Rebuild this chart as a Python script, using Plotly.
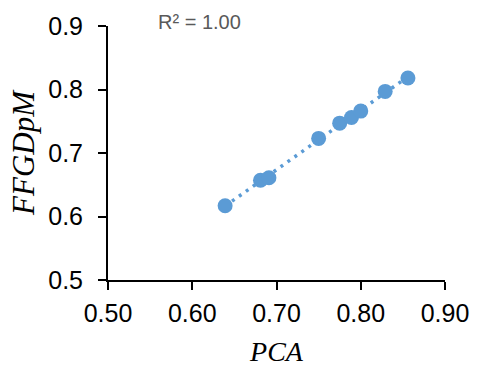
import numpy as np
import plotly.graph_objects as go

pca = [0.639, 0.681, 0.691, 0.750, 0.775, 0.789, 0.800, 0.829, 0.856]
ffgdpm = [0.617, 0.657, 0.661, 0.723, 0.747, 0.756, 0.766, 0.797, 0.818]
x_ticks = [0.5, 0.6, 0.7, 0.8, 0.9]
y_ticks = [0.5, 0.6, 0.7, 0.8, 0.9]
r2_label = "R² = 1.00"

color = "#5B9BD5"
slope, intercept = np.polyfit(pca, ffgdpm, 1)
tx = np.array([min(pca), max(pca)])
ty = slope * tx + intercept

fig = go.Figure()
fig.add_trace(go.Scatter(x=tx, y=ty, mode="lines",
                         line=dict(color=color, width=3.5, dash="3px,5.5px"),
                         hoverinfo="skip", showlegend=False))
fig.add_trace(go.Scatter(x=pca, y=ffgdpm, mode="markers",
                         marker=dict(color=color, size=15),
                         showlegend=False))

tickfont = dict(family="Liberation Sans, Arial, sans-serif", size=25, color="#000000")
serif = "Liberation Serif, Times New Roman, serif"

fig.update_layout(
    width=481, height=374,
    margin=dict(l=108, r=29, t=24, b=91),
    paper_bgcolor="white", plot_bgcolor="white",
    xaxis=dict(range=[0.5, 0.9], tickvals=x_ticks, ticktext=[f"{v:.2f}" for v in x_ticks],
               showgrid=False, zeroline=False, showline=True, linecolor="black", linewidth=2,
               ticks="outside", ticklen=8, tickwidth=2, tickcolor="black",
               tickfont=tickfont, ticklabelstandoff=2,
               title=dict(text="<i>PCA</i>", font=dict(family=serif, size=28, color="#000"), standoff=15)),
    yaxis=dict(range=[0.5, 0.9], tickvals=y_ticks, ticktext=[f"{v:.1f}" for v in y_ticks],
               showgrid=False, zeroline=False, showline=True, linecolor="black", linewidth=2,
               ticks="outside", ticklen=8, tickwidth=2, tickcolor="black",
               tickfont=tickfont, ticklabelstandoff=10,
               title=dict(text="<i>FFGDpM</i>", font=dict(family=serif, size=31, color="#000"), standoff=4)),
    annotations=[dict(text=r2_label, xref="paper", yref="paper", x=0.142, y=1.015,
                      xanchor="left", yanchor="middle", showarrow=False,
                      font=dict(family="Liberation Sans, Arial, sans-serif", size=20, color="#595959"))],
)

fig.write_html("out.html")
